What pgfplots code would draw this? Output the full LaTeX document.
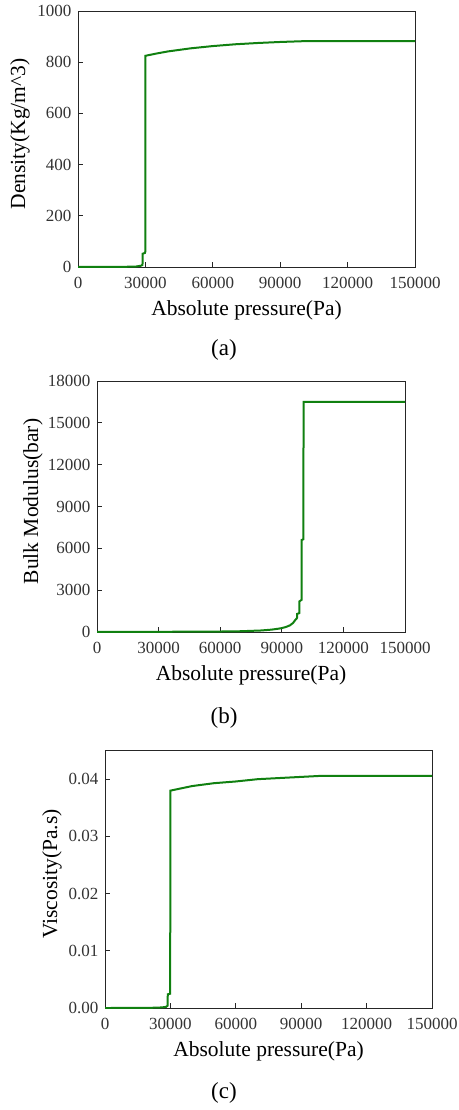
\documentclass[border=0pt]{standalone}
\usepackage{pgfplots}
\pgfplotsset{compat=1.18}
\usepackage{fontspec}
\setmainfont{Liberation Serif}
\definecolor{lgreen}{RGB}{16,128,16}
\pgfplotsset{
  myax/.style={
    scale only axis,
    anchor=north west,
    xmin=0, xmax=150000,
    xtick={0,30000,60000,90000,120000,150000},
    xticklabels={0,30000,60000,90000,120000,150000},
    scaled ticks=false,
    tick align=inside,
    xtick pos=bottom, ytick pos=left,
    major tick length=5pt,
    axis line style={black!85, line width=0.8pt},
    tick style={black!85, line width=0.8pt},
    tick label style={font=\fontsize{17}{19}\selectfont, text=black!80},
    label style={font=\fontsize{21.5}{24}\selectfont},
    xticklabel style={yshift=-7pt},
    yticklabel style={xshift=-3pt},
    xlabel={Absolute pressure(Pa)},
    xlabel style={yshift=-5pt},
  },
  myline/.style={lgreen, line width=2pt, no marks}
}
\begin{document}
\begin{tikzpicture}
\path[use as bounding box] (0pt,0pt) rectangle (458pt,-1110pt);
% (a)
\begin{axis}[myax, at={(78pt,-11pt)}, width=337pt, height=256pt,
  ymin=0, ymax=1000, ytick={0,200,400,600,800,1000},
  yticklabels={0,200,400,600,800,1000},
  ylabel={Density(Kg/m\textasciicircum 3)},
  ylabel style={at={(axis description cs:-0.172,0.52)}, anchor=center}]
\addplot[myline] coordinates {
(0,0) (20000,0.5) (26000,2) (28000,5) (28700,8) (28800,52) (29800,55) (29950,60)
(30000,825) (35000,834) (40000,842) (45000,848) (50000,854) (60000,863) (70000,870)
(80000,875) (90000,879) (100000,882) (150000,882)};
\end{axis}
\node[font=\fontsize{23}{26}\selectfont] at (224pt,-350pt) {(a)};
% (b)
\begin{axis}[myax, at={(97pt,-381pt)}, width=308pt, height=251pt,
  ymin=0, ymax=18000, ytick={0,3000,6000,9000,12000,15000,18000},
  yticklabels={0,3000,6000,9000,12000,15000,18000},
  ylabel={Bulk Modulus(bar)},
  ylabel style={at={(axis description cs:-0.208,0.52)}, anchor=center}]
\addplot[myline] coordinates {
(0,10) (30000,15) (50000,25) (60000,35) (70000,55) (80000,110) (85000,170)
(88000,230) (90000,280) (92000,360) (94000,480) (95500,650) (96500,850)
(97400,1000) (97500,1300) (98500,1350) (98600,2200) (99600,2300) (99700,6600)
(100500,6650) (100600,16500) (150000,16500)};
\end{axis}
\node[font=\fontsize{23}{26}\selectfont] at (224pt,-718pt) {(b)};
% (c)
\begin{axis}[myax, at={(105pt,-750pt)}, width=327pt, height=258pt,
  ymin=0, ymax=0.0451, ytick={0,0.01,0.02,0.03,0.04},
  yticklabels={0.00,0.01,0.02,0.03,0.04},
  ylabel={Viscosity(Pa.s)},
  ylabel style={at={(axis description cs:-0.162,0.52)}, anchor=center}]
\addplot[myline] coordinates {
(0,0) (20000,0.00002) (26000,0.0001) (28000,0.0002) (28700,0.0004) (28800,0.0024)
(29900,0.0025) (30000,0.0380) (35000,0.0384) (40000,0.0388) (50000,0.0393)
(60000,0.0396) (70000,0.0400) (80000,0.0402) (90000,0.0404) (100000,0.0406)
(150000,0.0406)};
\end{axis}
\node[font=\fontsize{23}{26}\selectfont] at (224pt,-1093pt) {(c)};
\end{tikzpicture}
\end{document}
